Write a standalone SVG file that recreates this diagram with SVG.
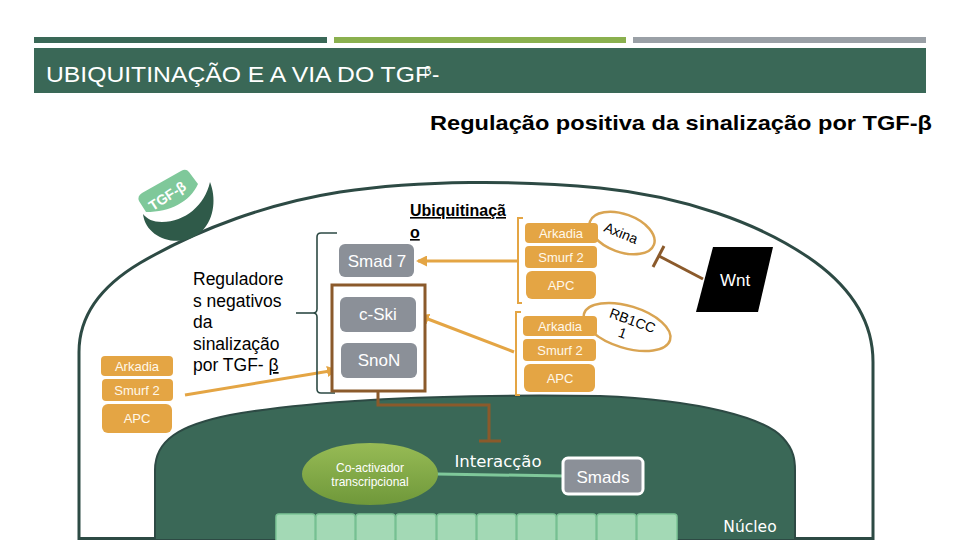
<svg xmlns="http://www.w3.org/2000/svg" width="960" height="540" viewBox="0 0 960 540">
<defs>
<style>
.sans{font-family:"Liberation Sans",Arial,sans-serif}
.dv{font-family:"DejaVu Sans","Liberation Sans",sans-serif}
.org{fill:#e4a544}
.orgt{font-family:"Liberation Sans",Arial,sans-serif;font-size:13px;fill:#fff8ea;text-anchor:middle}
.gray{fill:#8b9098}
.grayt{font-family:"Liberation Sans",Arial,sans-serif;font-size:17px;fill:#ffffff;text-anchor:middle}
.oline{fill:none;stroke:#e4a544;stroke-width:3}
.obr{fill:none;stroke:#e4a544;stroke-width:2}
.brown{fill:none;stroke:#8b5a2b;stroke-width:3}
.reg{font-family:"Liberation Sans",Arial,sans-serif;font-size:17.5px;fill:#000}
</style>
<marker id="ah" markerUnits="userSpaceOnUse" markerWidth="11" markerHeight="11" refX="9" refY="5.5" orient="auto">
<path d="M0,0 L11,5.5 L0,11 z" fill="#e4a544"/>
</marker>
<linearGradient id="olive" x1="0" y1="0" x2="0" y2="1">
<stop offset="0" stop-color="#97bb55"/>
<stop offset="1" stop-color="#6f983a"/>
</linearGradient>
</defs>

<g id="header">
<rect x="34" y="37" width="293" height="6" fill="#3a6857"/>
<rect x="334" y="37" width="292" height="6" fill="#8ab04e"/>
<rect x="633" y="37" width="293" height="6" fill="#9aa0a6"/>
<rect x="34" y="48" width="892" height="45" fill="#3a6857"/>
<text x="46" y="82" class="sans" font-size="22" fill="#ffffff" textLength="384" lengthAdjust="spacingAndGlyphs">UBIQUITINAÇÃO E A VIA DO TGF</text>
<text x="424" y="75" class="sans" font-size="13" fill="#ffffff">β</text>
<text x="432" y="82" class="sans" font-size="22" fill="#ffffff">-</text>
<text x="430" y="130" class="sans" font-size="21" font-weight="bold" fill="#000" textLength="502" lengthAdjust="spacingAndGlyphs">Regulação positiva da sinalização por TGF-β</text>
</g>

<g id="cell">
<path d="M79,538.5 L79,352 C79,318 98,288 140,263 C200,228 270,203 340,192 C420,180 520,180 600,188 C680,196 760,222 815,262 C860,295 873,330 873,362 L873,538.5 Z" fill="#ffffff" stroke="#2d4a44" stroke-width="3"/>
</g>

<g id="nucleo">
<path d="M155,540 L155,470 C155,440 180,425 230,415 C320,399 450,394 600,396 C700,400 765,418 783,438 C794,450 795,460 795,470 L795,540 Z" fill="#3a6857" stroke="#2d4a44" stroke-width="2"/>
<g fill="#a3d9b5" stroke="#7cc596" stroke-width="1.5">
<rect x="276" y="514" width="39" height="28" rx="3"/>
<rect x="316" y="514" width="39" height="28" rx="3"/>
<rect x="356" y="514" width="39" height="28" rx="3"/>
<rect x="396" y="514" width="40" height="28" rx="3"/>
<rect x="437" y="514" width="39" height="28" rx="3"/>
<rect x="477" y="514" width="39" height="28" rx="3"/>
<rect x="517" y="514" width="39" height="28" rx="3"/>
<rect x="557" y="514" width="39" height="28" rx="3"/>
<rect x="597" y="514" width="39" height="28" rx="3"/>
<rect x="637" y="514" width="40" height="28" rx="3"/>
</g>
<text x="750" y="532" class="dv" font-size="15.5" fill="#ffffff" text-anchor="middle">Núcleo</text>
</g>

<g id="receptor">
<path d="M143,214 C146,240 182,250 202,231 C215,218 216,197 210,182 C205,205 185,222 162,222 C153,222 147,219 143,214 Z" fill="#2f5a49"/>
<path d="M146,212 L139,201 Q137,196 142,193 L181,171 Q186,168 189,172 L198,184 C190,202 170,212 146,212 Z" fill="#7fc89a"/>
<text x="170" y="200" class="sans" font-size="14" font-weight="bold" fill="#ffffff" text-anchor="middle" transform="rotate(-33 170 200)">TGF-β</text>
</g>

<g id="connectors">
<path class="brown" d="M378,391 V405 H489 V441"/>
<path class="brown" d="M479,441 H501"/>
<path class="brown" d="M703,279 L659,256"/>
<path class="brown" d="M653,267 L664,246"/>
<line x1="437" y1="474" x2="564" y2="476" stroke="#7fc89a" stroke-width="3"/>
<path class="obr" d="M523,218 H518 V303 H522"/>
<path class="obr" d="M521,312 H516 V395 H520"/>
<line class="oline" x1="518" y1="261" x2="418" y2="261" marker-end="url(#ah)"/>
<line class="oline" x1="514" y1="352" x2="420" y2="316" marker-end="url(#ah)"/>
<line class="oline" x1="185" y1="395" x2="336" y2="370" marker-end="url(#ah)"/>
<path d="M337,233 H321 Q317,233 317,237 V309 Q317,313 313,313 Q317,313 317,317 V389 Q317,393 321,393 H335" fill="none" stroke="#2d4a44" stroke-width="1.6"/>
<line x1="296" y1="313" x2="313" y2="313" stroke="#2d4a44" stroke-width="1.6"/>
</g>

<g id="reguladores">
<text class="reg"><tspan x="193" y="285">Reguladore</tspan><tspan x="193" y="307">s negativos</tspan><tspan x="193" y="328">da</tspan><tspan x="193" y="350">sinalização</tspan><tspan x="193" y="371">por TGF- <tspan text-decoration="underline">β</tspan></tspan></text>
</g>

<g id="ubiquitinacao">
<text class="sans" font-size="16" font-weight="bold" fill="#000" text-decoration="underline"><tspan x="410" y="216">Ubiquitinaçã</tspan><tspan x="410" y="238">o</tspan></text>
</g>

<g id="grupo-esq">
<rect class="org" x="101" y="356" width="72" height="20" rx="4"/>
<text class="orgt" x="137" y="371">Arkadia</text>
<rect class="org" x="102" y="379" width="71" height="22" rx="4"/>
<text class="orgt" x="137" y="395">Smurf 2</text>
<rect class="org" x="102" y="404" width="70" height="29" rx="6"/>
<text class="orgt" x="137" y="423">APC</text>
</g>

<g id="axina">
<ellipse cx="622" cy="233" rx="34" ry="19" transform="rotate(20 622 233)" fill="none" stroke="#d9a452" stroke-width="2.5"/>
<text x="621" y="238" class="sans" font-size="14" fill="#000" text-anchor="middle" transform="rotate(22 621 233)">Axina</text>
</g>

<g id="rb1cc">
<ellipse cx="627" cy="327" rx="45" ry="21" transform="rotate(17 627 327)" fill="none" stroke="#d9a452" stroke-width="2.5"/>
<text class="sans" font-size="14" fill="#000" text-anchor="middle" transform="rotate(20 627 327)"><tspan x="630" y="324">RB1CC</tspan><tspan x="625" y="339">1</tspan></text>
</g>

<g id="grupo-dir1">
<rect class="org" x="525" y="223" width="73" height="20" rx="4"/>
<text class="orgt" x="561" y="238">Arkadia</text>
<rect class="org" x="525" y="246" width="72" height="22" rx="4"/>
<text class="orgt" x="561" y="262">Smurf 2</text>
<rect class="org" x="526" y="271" width="70" height="28" rx="6"/>
<text class="orgt" x="561" y="290">APC</text>
</g>

<g id="grupo-dir2">
<rect class="org" x="523" y="316" width="74" height="20" rx="4"/>
<text class="orgt" x="560" y="331">Arkadia</text>
<rect class="org" x="523" y="339" width="73" height="22" rx="4"/>
<text class="orgt" x="560" y="355">Smurf 2</text>
<rect class="org" x="524" y="364" width="71" height="28" rx="6"/>
<text class="orgt" x="560" y="383">APC</text>
</g>

<g id="smad7">
<rect class="gray" x="339" y="244" width="75" height="33" rx="6"/>
<text class="grayt" x="377" y="267">Smad 7</text>
</g>

<g id="cski-snon">
<rect x="332" y="285" width="93" height="106" fill="#ffffff" stroke="#8b5a2b" stroke-width="3"/>
<rect class="gray" x="340" y="297" width="76" height="35" rx="6"/>
<text class="grayt" x="378" y="320">c-Ski</text>
<rect class="gray" x="341" y="343" width="76" height="35" rx="6"/>
<text class="grayt" x="379" y="366">SnoN</text>
</g>

<g id="wnt">
<polygon points="713,247 773,247 758,312 696,312" fill="#000"/>
<text x="735" y="286" class="sans" font-size="17" fill="#ffffff" text-anchor="middle">Wnt</text>
</g>

<g id="coactivador">
<ellipse cx="370" cy="474" rx="68" ry="31" fill="url(#olive)"/>
<text class="sans" font-size="12" fill="#ffffff" text-anchor="middle"><tspan x="370" y="472">Co-activador</tspan><tspan x="370" y="486">transcripcional</tspan></text>
</g>

<g id="interaccao">
<text x="498" y="467" class="dv" font-size="16.5" fill="#ffffff" text-anchor="middle">Interacção</text>
</g>

<g id="smads">
<rect x="563" y="458" width="80" height="36" rx="5" fill="#8b9098" stroke="#ffffff" stroke-width="3"/>
<text class="grayt" x="603" y="483">Smads</text>
</g>
</svg>
